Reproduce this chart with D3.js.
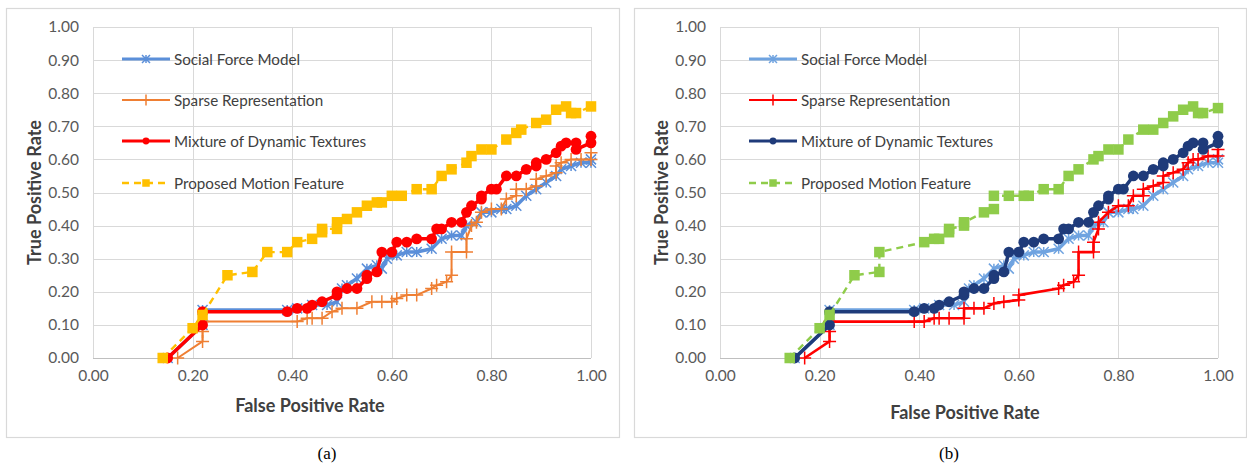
<!DOCTYPE html>
<html>
<head>
<meta charset="utf-8">
<script src="https://cdn.jsdelivr.net/npm/d3@7"></script>
<style>
  body { margin: 0; background: #fff; }
  svg { display: block; font-family: Lato, "Open Sans", sans-serif; }
</style>
</head>
<body>
<svg id="chart" width="1247" height="468"></svg>
<script>
// series names (legend order = draw order)
const seriesNames = ["Social Force Model", "Sparse Representation", "Mixture of Dynamic Textures", "Proposed Motion Feature"];

// [false positive rate, true positive rate]
const socialForce = [
  [0.15,0.00],[0.22,0.10],[0.22,0.145],[0.39,0.145],[0.41,0.15],[0.44,0.16],[0.47,0.16],[0.49,0.17],
  [0.50,0.21],[0.51,0.22],[0.53,0.24],[0.55,0.27],[0.57,0.28],[0.58,0.27],[0.59,0.30],[0.61,0.31],
  [0.63,0.32],[0.65,0.32],[0.68,0.33],[0.70,0.36],[0.72,0.37],[0.74,0.37],[0.75,0.40],[0.77,0.41],
  [0.78,0.44],[0.80,0.44],[0.82,0.45],[0.83,0.45],[0.85,0.46],[0.87,0.49],[0.89,0.51],[0.91,0.53],
  [0.93,0.55],[0.94,0.57],[0.96,0.58],[0.98,0.59],[1.00,0.59],[1.00,0.60]
];
// panel (a)
const sparseRepA = [
  [0.17,0.00],[0.22,0.05],[0.22,0.08],[0.22,0.11],[0.41,0.11],[0.43,0.12],[0.44,0.12],[0.46,0.12],
  [0.48,0.14],[0.50,0.15],[0.53,0.15],[0.56,0.17],[0.58,0.17],[0.60,0.17],[0.61,0.18],[0.63,0.19],
  [0.65,0.19],[0.68,0.21],[0.69,0.22],[0.71,0.23],[0.72,0.25],[0.72,0.32],[0.75,0.32],[0.75,0.36],
  [0.76,0.40],[0.77,0.41],[0.78,0.44],[0.80,0.45],[0.82,0.45],[0.83,0.48],[0.85,0.49],[0.85,0.51],
  [0.87,0.51],[0.89,0.52],[0.89,0.54],[0.91,0.55],[0.93,0.56],[0.93,0.58],[0.94,0.59],[0.96,0.60],
  [0.98,0.60],[1.00,0.60],[1.00,0.62]
];
// panel (b)
const sparseRepB = [
  [0.17,0.00],[0.22,0.05],[0.22,0.08],[0.22,0.11],[0.39,0.11],[0.41,0.11],[0.43,0.12],[0.44,0.12],
  [0.46,0.12],[0.49,0.12],[0.49,0.15],[0.51,0.15],[0.53,0.15],[0.55,0.165],[0.57,0.17],[0.60,0.175],
  [0.60,0.19],[0.68,0.21],[0.69,0.22],[0.71,0.23],[0.72,0.25],[0.72,0.32],[0.75,0.32],[0.75,0.35],
  [0.76,0.39],[0.76,0.41],[0.78,0.44],[0.80,0.46],[0.82,0.46],[0.83,0.49],[0.85,0.49],[0.85,0.51],
  [0.87,0.52],[0.89,0.53],[0.89,0.55],[0.91,0.56],[0.93,0.57],[0.94,0.59],[0.95,0.60],[0.96,0.60],
  [0.98,0.61],[1.00,0.61],[1.00,0.63]
];
const mixtureDT = [
  [0.15,0.00],[0.22,0.10],[0.22,0.14],[0.39,0.14],[0.41,0.15],[0.43,0.15],[0.44,0.16],[0.46,0.17],
  [0.49,0.19],[0.49,0.20],[0.51,0.21],[0.53,0.21],[0.55,0.24],[0.55,0.25],[0.57,0.26],[0.58,0.32],
  [0.60,0.32],[0.61,0.35],[0.63,0.35],[0.65,0.36],[0.68,0.36],[0.69,0.39],[0.70,0.39],[0.72,0.41],
  [0.74,0.41],[0.75,0.44],[0.76,0.46],[0.78,0.48],[0.78,0.49],[0.80,0.51],[0.81,0.51],[0.83,0.55],
  [0.85,0.55],[0.87,0.57],[0.89,0.58],[0.89,0.59],[0.91,0.60],[0.93,0.62],[0.94,0.64],[0.95,0.65],
  [0.97,0.65],[0.97,0.63],[1.00,0.65],[1.00,0.67]
];
const proposedA = [
  [0.14,0.00],[0.20,0.09],[0.22,0.13],[0.27,0.25],[0.32,0.26],[0.35,0.32],[0.39,0.32],[0.41,0.35],
  [0.44,0.36],[0.46,0.38],[0.46,0.39],[0.49,0.39],[0.49,0.41],[0.51,0.42],[0.53,0.44],[0.55,0.46],
  [0.57,0.47],[0.58,0.47],[0.60,0.49],[0.62,0.49],[0.65,0.51],[0.68,0.51],[0.70,0.55],[0.72,0.57],
  [0.75,0.59],[0.76,0.61],[0.78,0.63],[0.80,0.63],[0.83,0.66],[0.85,0.68],[0.86,0.69],[0.89,0.71],
  [0.91,0.72],[0.93,0.75],[0.95,0.76],[0.96,0.74],[0.97,0.74],[1.00,0.76]
];
const proposedB = [
  [0.14,0.00],[0.20,0.09],[0.22,0.13],[0.27,0.25],[0.32,0.26],[0.32,0.32],[0.41,0.35],[0.43,0.36],
  [0.44,0.36],[0.46,0.38],[0.46,0.39],[0.49,0.40],[0.49,0.41],[0.53,0.44],[0.55,0.45],[0.55,0.49],
  [0.58,0.49],[0.61,0.49],[0.62,0.49],[0.65,0.51],[0.68,0.51],[0.70,0.55],[0.72,0.57],[0.75,0.60],
  [0.76,0.61],[0.78,0.63],[0.80,0.63],[0.82,0.66],[0.85,0.69],[0.87,0.69],[0.89,0.71],[0.91,0.73],
  [0.93,0.75],[0.95,0.76],[0.96,0.74],[0.97,0.74],[1.00,0.755]
];

const xTicks = [0, 0.2, 0.4, 0.6, 0.8, 1.0];
const yTicks = [0, 0.1, 0.2, 0.3, 0.4, 0.5, 0.6, 0.7, 0.8, 0.9, 1.0];

const colorsA = ["#5b8fd9", "#ef7f33", "#ff0000", "#ffc000"];
const colorsB = ["#6fa3e0", "#ff0000", "#1f3b7a", "#8fcc4a"];

const svg = d3.select("#chart");

function asterisk(h) {
  return `M0,${-h}L0,${h}M${-h},${-h}L${h},${h}M${-h},${h}L${h},${-h}`;
}
function plus(h) {
  return `M${-h},0L${h},0M0,${-h}L0,${h}`;
}

function drawMarker(g, type, color, x, y, big) {
  if (type === 0) {
    g.append("path").attr("transform", `translate(${x},${y})`)
      .attr("d", asterisk(big ? 5 : 4)).attr("stroke", color).attr("stroke-width", 1.5).attr("fill", "none");
  } else if (type === 1) {
    g.append("path").attr("transform", `translate(${x},${y})`)
      .attr("d", plus(big ? 6.5 : 5.5)).attr("stroke", color).attr("stroke-width", 1.5).attr("fill", "none");
  } else if (type === 2) {
    g.append("circle").attr("cx", x).attr("cy", y).attr("r", big ? 5.4 : 3.4).attr("fill", color);
  } else {
    const s = big ? 10.5 : 7.5;
    g.append("rect").attr("x", x - s / 2).attr("y", y - s / 2).attr("width", s).attr("height", s).attr("fill", color);
  }
}

function panel(opt) {
  const left = opt.left, top = 27, w = 498, h = 331;
  const x = d3.scaleLinear().domain([0, 1]).range([left, left + w]);
  const y = d3.scaleLinear().domain([0, 1]).range([top + h, top]);

  // frame
  svg.append("rect").attr("x", opt.box[0] + 0.5).attr("y", 8.5)
    .attr("width", opt.box[1] - opt.box[0]).attr("height", 429)
    .attr("fill", "#fff").attr("stroke", "#d9d9d9").attr("stroke-width", 1.2);

  const g = svg.append("g");

  // grid
  g.append("g").selectAll("line").data(yTicks).join("line")
    .attr("x1", left).attr("x2", left + w)
    .attr("y1", d => Math.round(y(d)) + 0.5).attr("y2", d => Math.round(y(d)) + 0.5)
    .attr("stroke", d => d === 0 ? "#bfbfbf" : "#d9d9d9").attr("stroke-width", 1);
  g.append("g").selectAll("line").data(xTicks).join("line")
    .attr("y1", top).attr("y2", top + h)
    .attr("x1", d => Math.round(x(d)) + 0.5).attr("x2", d => Math.round(x(d)) + 0.5)
    .attr("stroke", "#d9d9d9").attr("stroke-width", 1);

  // axes labels
  const yAxis = d3.axisLeft(y).tickValues(yTicks).tickFormat(d3.format(".2f")).tickSize(0).tickPadding(14);
  const ya = g.append("g").attr("transform", `translate(${left},0)`).call(yAxis);
  const xAxis = d3.axisBottom(x).tickValues(xTicks).tickFormat(d3.format(".2f")).tickSize(0).tickPadding(12);
  const xa = g.append("g").attr("transform", `translate(0,${top + h})`).call(xAxis);
  [ya, xa].forEach(a => {
    a.select(".domain").remove();
    a.selectAll("text").attr("fill", "#595959").style("font-size", "15.5px").style("font-family", "Lato, sans-serif");
  });

  // titles
  g.append("text").attr("transform", `translate(${left - 59},${top + h / 2}) rotate(-90)`)
    .attr("text-anchor", "middle").attr("dominant-baseline", "central")
    .attr("fill", "#404040").style("font-size", "18px").style("font-weight", "bold")
    .text("True Positive Rate");
  g.append("text").attr("x", left + opt.xTitleDx).attr("y", opt.xTitleY)
    .attr("text-anchor", "middle").attr("dominant-baseline", "central")
    .attr("fill", "#404040").style("font-size", "18px").style("font-weight", "bold")
    .text("False Positive Rate");

  // series
  const widths = [3.5, opt.sparseW, 3.5, 2.4];
  const line = d3.line().x(d => x(d[0])).y(d => y(d[1]));
  opt.data.forEach((data, i) => {
    const c = opt.colors[i];
    g.append("path").datum(data).attr("d", line).attr("fill", "none")
      .attr("stroke", c).attr("stroke-width", widths[i]).attr("stroke-linejoin", "round")
      .attr("stroke-dasharray", i === 3 ? "7,5" : null);
    const mg = g.append("g");
    data.forEach(d => drawMarker(mg, i, c, x(d[0]), y(d[1]), true));
  });

  // legend
  const legY = [59, 100, 141, 183];
  seriesNames.forEach((name, i) => {
    const c = opt.colors[i];
    const lg = g.append("g");
    lg.append("line").attr("x1", left + 29).attr("x2", left + 77).attr("y1", legY[i]).attr("y2", legY[i])
      .attr("stroke", c).attr("stroke-width", i === 3 ? 2.4 : (i === 1 ? 2.2 : 3.2))
      .attr("stroke-dasharray", i === 3 ? "7,5" : null);
    drawMarker(lg, i, c, left + 53, legY[i], false);
    lg.append("text").attr("x", left + 81).attr("y", legY[i]).attr("dominant-baseline", "central")
      .attr("fill", "#404040").style("font-size", "15.2px").text(name);
  });

  // caption
  svg.append("text").attr("x", opt.capX).attr("y", 453).attr("text-anchor", "middle")
    .attr("dominant-baseline", "central").style("font-family", "'Liberation Serif', serif")
    .style("font-size", "17px").attr("fill", "#000").text(opt.caption);
}

panel({ left: 93, box: [6, 619], colors: colorsA, xTitleDx: 217, xTitleY: 405, capX: 327, caption: "(a)",
  data: [socialForce, sparseRepA, mixtureDT, proposedA], sparseW: 2 });
panel({ left: 720, box: [634, 1246], colors: colorsB, xTitleDx: 245, xTitleY: 412, capX: 949, caption: "(b)",
  data: [socialForce, sparseRepB, mixtureDT, proposedB], sparseW: 2.6 });
</script>
</body>
</html>
